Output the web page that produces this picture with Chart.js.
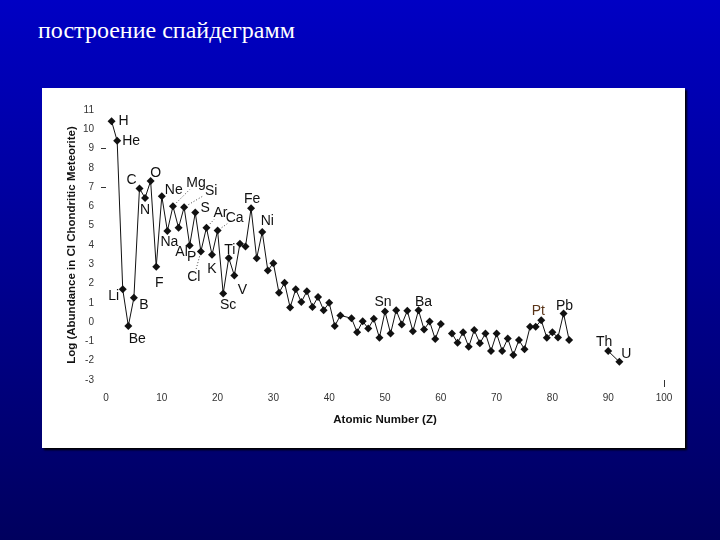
<!DOCTYPE html>
<html>
<head>
<meta charset="utf-8">
<script src="https://cdn.jsdelivr.net/npm/chart.js@4.4.1/dist/chart.umd.min.js"></script>
<style>
    html, body { margin: 0; padding: 0; }
    body {
        width: 720px; height: 540px; overflow: hidden; position: relative;
        background: linear-gradient(#0000c4, #00005e);
    }
    #title {
        position: absolute; left: 38px; top: 17px;
        font: 24px 'Liberation Serif', 'Times New Roman', serif; color: #fff;
    }
    #panel {
        position: absolute; left: 42px; top: 88px; width: 643px; height: 360px;
        background: #fff; box-shadow: 2px 2px 2px #000;
    }
    #wrap { position: absolute; left: 0; top: 0; width: 720px; height: 540px; }
</style>
</head>
<body>
<div id="title">построение спайдеграмм</div>
<div id="panel"></div>
<div id="wrap"><canvas id="spiderChart"></canvas></div>
<script>
    // Atomic numbers (gaps: Pm and 84-89 break the line)
    const atomicNumbers = [1, 2, 3, 4, 5, 6, 7, 8, 9, 10,
        11, 12, 13, 14, 15, 16, 17, 18, 19, 20,
        21, 22, 23, 24, 25, 26, 27, 28, 29, 30,
        31, 32, 33, 34, 35, 36, 37, 38, 39, 40,
        41, 42, 44, 45, 46, 47, 48, 49, 50,
        51, 52, 53, 54, 55, 56, 57, 58, 59, 60, 61,
        62, 63, 64, 65, 66, 67, 68, 69, 70,
        71, 72, 73, 74, 75, 76, 77, 78, 79, 80,
        81, 82, 83, 84, 90, 92];

    const elementSymbols = ['H', 'He', 'Li', 'Be', 'B', 'C', 'N', 'O', 'F', 'Ne',
        'Na', 'Mg', 'Al', 'Si', 'P', 'S', 'Cl', 'Ar', 'K', 'Ca',
        'Sc', 'Ti', 'V', 'Cr', 'Mn', 'Fe', 'Co', 'Ni', 'Cu', 'Zn',
        'Ga', 'Ge', 'As', 'Se', 'Br', 'Kr', 'Rb', 'Sr', 'Y', 'Zr',
        'Nb', 'Mo', 'Ru', 'Rh', 'Pd', 'Ag', 'Cd', 'In', 'Sn',
        'Sb', 'Te', 'I', 'Xe', 'Cs', 'Ba', 'La', 'Ce', 'Pr', 'Nd', 'Pm',
        'Sm', 'Eu', 'Gd', 'Tb', 'Dy', 'Ho', 'Er', 'Tm', 'Yb',
        'Lu', 'Hf', 'Ta', 'W', 'Re', 'Os', 'Ir', 'Pt', 'Au', 'Hg',
        'Tl', 'Pb', 'Bi', 'Po', 'Th', 'U'];

    // Log abundance in CI chondritic meteorite
    const logAbundance = [10.42, 9.40, 1.70, -0.20, 1.26, 6.93, 6.44, 7.32, 2.87, 6.53,
        4.73, 6.01, 4.89, 5.96, 3.98, 5.68, 3.66, 4.90, 3.49, 4.75,
        1.48, 3.33, 2.42, 4.06, 3.92, 5.90, 3.31, 4.68, 2.68, 3.06,
        1.52, 2.04, 0.76, 1.71, 1.04, 1.60, 0.79, 1.31, 0.62, 1.00,
        -0.20, 0.35, 0.20, -0.52, 0.05, -0.33, 0.17, -0.81, 0.55,
        -0.59, 0.62, -0.12, 0.59, -0.47, 0.62, -0.38, 0.03, -0.88, -0.10, null,
        -0.59, -1.07, -0.52, -1.28, -0.41, -1.10, -0.59, -1.49, -0.59,
        -1.49, -0.85, -1.71, -0.93, -1.40, -0.24, -0.24, 0.10, -0.81, -0.53,
        -0.79, 0.45, -0.93, null, -1.50, -2.06];

    const yTicks = [-3, -2, -1, 0, 1, 2, 3, 4, 5, 6, 7, 8, 9, 10, 11];
    const xTicks = [0, 10, 20, 30, 40, 50, 60, 70, 80, 90, 100];

    // label placement relative to the point (px)
    const labelOffsets = {
        H: [12, 0], He: [14, 0], Li: [-9, 7], Be: [9, 13], B: [10, 7],
        C: [-8, -8], N: [0, 12], O: [5, -8], F: [3, 16], Ne: [12, -6],
        Na: [2, 11], Mg: [23, -23], Al: [3, 24], Si: [27, -16], P: [2, 12],
        S: [10, -4], Cl: [-7, 26], Ar: [14, -15], K: [0, 14], Ca: [17, -12],
        Sc: [5, 12], Ti: [1, -8], V: [8, 15], Fe: [1, -9], Ni: [5, -11],
        Sn: [-2, -9], Ba: [5, -8], Pt: [-3, -9], Pb: [1, -7], Th: [-4, -9], U: [7, -8]
    };
    const dottedLeaders = ['Mg', 'Si', 'Ar', 'Ca', 'Cl'];

    const elementLabels = {
        id: 'elementLabels',
        afterDatasetsDraw(chart) {
            const ctx = chart.ctx;
            const meta = chart.getDatasetMeta(0);
            ctx.save();
            ctx.font = "14px 'Liberation Sans', Arial, sans-serif";
            ctx.textAlign = 'center';
            ctx.textBaseline = 'middle';
            Object.keys(labelOffsets).forEach(function (sym) {
                const i = elementSymbols.indexOf(sym);
                const pt = meta.data[i];
                if (!pt) return;
                const [dx, dy] = labelOffsets[sym];
                const lx = pt.x + dx, ly = pt.y + dy;
                ctx.fillStyle = sym === 'Pt' ? '#5a3418' : '#111';
                ctx.fillText(sym, lx, ly);
                if (dottedLeaders.includes(sym)) {
                    const len = Math.hypot(dx, dy);
                    const ux = dx / len, uy = dy / len;
                    ctx.strokeStyle = '#444';
                    ctx.lineWidth = 1;
                    ctx.setLineDash([1, 2]);
                    ctx.beginPath();
                    ctx.moveTo(pt.x + ux * 5, pt.y + uy * 5);
                    ctx.lineTo(lx - ux * 9, ly - uy * 9);
                    ctx.stroke();
                    ctx.setLineDash([]);
                }
            });
            ctx.restore();
        }
    };

    const tickFont = { family: "'Liberation Sans', Arial, sans-serif", size: 10 };
    const titleFont = { family: "'Liberation Sans', Arial, sans-serif", size: 11.5, weight: 'bold' };

    const ctx = document.getElementById('spiderChart').getContext('2d');
    const spiderChart = new Chart(ctx, {
        type: 'line',
        data: {
            datasets: [{
                data: atomicNumbers.map((z, i) => ({ x: z, y: logAbundance[i] })),
                borderColor: '#111',
                borderWidth: 1,
                backgroundColor: '#111',
                pointStyle: 'rectRot',
                pointRadius: 4,
                pointBorderWidth: 0,
                pointBackgroundColor: '#111',
                tension: 0,
                spanGaps: false
            }]
        },
        options: {
            responsive: true,
            maintainAspectRatio: false,
            animation: false,
            devicePixelRatio: 1,
            layout: { padding: { left: 62, right: 56, top: 110, bottom: 92 } },
            plugins: { legend: { display: false }, tooltip: { enabled: false } },
            scales: {
                x: {
                    type: 'linear',
                    min: 0, max: 100,
                    afterBuildTicks: (axis) => { axis.ticks = xTicks.map(v => ({ value: v })); },
                    afterFit: (axis) => { axis.height = 68; },
                    border: { display: false },
                    grid: {
                        drawOnChartArea: false, drawTicks: true, tickLength: 7,
                        color: (c) => (c.tick && c.tick.value === 100 ? '#333' : 'rgba(0,0,0,0)')
                    },
                    ticks: { font: tickFont, color: '#333', padding: 5, maxRotation: 0 },
                    title: {
                        display: true, text: 'Atomic Number (Z)', font: titleFont, color: '#111',
                        padding: { top: 0, bottom: 21 }
                    }
                },
                y: {
                    min: -3, max: 11,
                    afterBuildTicks: (axis) => { axis.ticks = yTicks.map(v => ({ value: v })); },
                    afterFit: (axis) => { axis.width = 44; },
                    border: { display: false },
                    grid: {
                        drawOnChartArea: false, drawTicks: true, tickLength: 5,
                        color: (c) => (c.tick && (c.tick.value === 9 || c.tick.value === 7) ? '#333' : 'rgba(0,0,0,0)')
                    },
                    ticks: { font: tickFont, color: '#333', padding: 7 },
                    title: {
                        display: true, text: 'Log (Abundance in CI Chondritic Meteorite)', font: titleFont, color: '#111',
                        padding: { top: 3, bottom: 0 }
                    }
                }
            }
        },
        plugins: [elementLabels]
    });
</script>
</body>
</html>
